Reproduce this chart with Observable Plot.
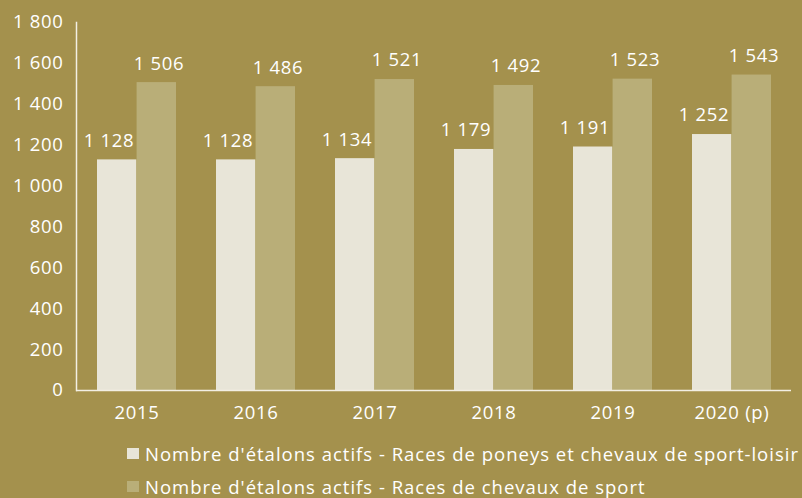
<!DOCTYPE html>
<html><head><meta charset="utf-8">
<script src="https://cdn.jsdelivr.net/npm/d3@7"></script>
<script src="https://cdn.jsdelivr.net/npm/@observablehq/plot@0.6"></script>
<style>
html,body{margin:0;padding:0;background:#A4914D;}
#wrap{width:802px;height:498px;background:#A4914D;font-family:"Open Sans",sans-serif;color:#FFFFFF;overflow:hidden;}
#wrap svg text{letter-spacing:0.7px;}
.legend{padding-left:127px;padding-top:7px;font-size:18.5px;letter-spacing:1px;white-space:nowrap;}
.row{display:flex;align-items:center;height:33px;}
.sw{width:12px;height:11px;margin-right:6px;flex:none;}
</style></head>
<body><div id="wrap"></div>
<script>
const years = ["2015","2016","2017","2018","2019","2020 (p)"];
const seriesNames = [
  "Nombre d'étalons actifs - Races de poneys et chevaux de sport-loisir",
  "Nombre d'étalons actifs - Races de chevaux de sport"
];
const poneysLoisir = [1128, 1128, 1134, 1179, 1191, 1252];
const chevauxSport = [1506, 1486, 1521, 1492, 1523, 1543];
const yTicks = [0, 200, 400, 600, 800, 1000, 1200, 1400, 1600, 1800];
const colors = ["#E8E5D8", "#B9AE78"];

const loc = d3.formatLocale({thousands: " ", grouping: [3], decimal: ",", currency: ["", " €"]});
const fmt = loc.format(",d");

const d1 = years.map((y, i) => ({year: y, value: poneysLoisir[i]}));
const d2 = years.map((y, i) => ({year: y, value: chevauxSport[i]}));
const fs = 18.5;

const chart = Plot.plot({
  width: 802,
  height: 430,
  marginLeft: 76,
  marginRight: 11,
  marginTop: 22,
  marginBottom: 40,
  style: {background: "transparent", color: "#FFFFFF", fontFamily: "'Open Sans', sans-serif", fontSize: fs + "px"},
  x: {domain: years, padding: 0, label: null},
  y: {domain: [0, 1800], label: null},
  marks: [
    Plot.barY(d1, {x: "year", y: "value", fill: colors[0], insetLeft: 20, insetRight: 59.6}),
    Plot.barY(d2, {x: "year", y: "value", fill: colors[1], insetLeft: 59.6, insetRight: 20}),
    Plot.text(d1, {x: "year", y: "value", text: d => fmt(d.value), dx: -28, dy: -19, fill: "#FFFFFF", fontSize: fs, lineAnchor: "middle"}),
    Plot.text(d2, {x: "year", y: "value", text: d => fmt(d.value), dx: 22, dy: -19, fill: "#FFFFFF", fontSize: fs, lineAnchor: "middle"}),
    Plot.axisY({ticks: yTicks, tickFormat: fmt, tickSize: 0, tickPadding: 13, fontSize: fs, label: null}),
    Plot.axisX({tickSize: 0, tickPadding: 15, fontSize: fs, label: null}),
    Plot.ruleY([0], {stroke: "#F2EFE4", strokeWidth: 1.5}),
    Plot.frame({anchor: "left", stroke: "#F2EFE4", strokeWidth: 1.5})
  ]
});
const wrap = document.getElementById("wrap");
wrap.appendChild(chart);
const leg = document.createElement("div");
leg.className = "legend";
seriesNames.forEach((n, i) => {
  const r = document.createElement("div"); r.className = "row";
  const s = document.createElement("span"); s.className = "sw"; s.style.background = colors[i];
  const t = document.createElement("span"); t.textContent = n;
  r.appendChild(s); r.appendChild(t); leg.appendChild(r);
});
wrap.appendChild(leg);
</script></body></html>
